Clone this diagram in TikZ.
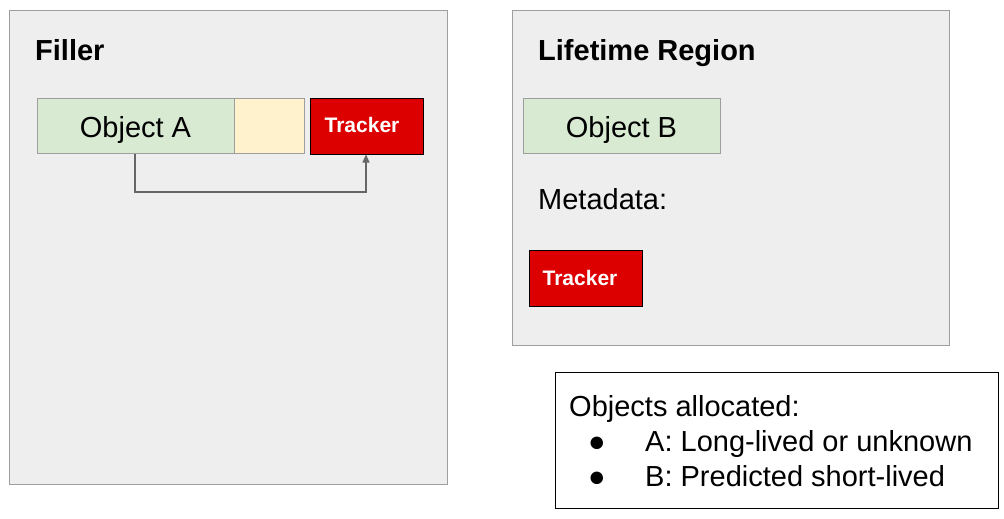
\documentclass[tikz,border=0pt]{standalone}
\usepackage{fontspec}
\setmainfont{Liberation Sans}
\usetikzlibrary{arrows.meta}
\definecolor{panel}{HTML}{EEEEEE}
\definecolor{panelline}{HTML}{9E9E9E}
\definecolor{objgreen}{HTML}{D9EAD3}
\definecolor{padyellow}{HTML}{FFF2CC}
\definecolor{trackred}{HTML}{DD0000}
\definecolor{arrowgray}{HTML}{666666}
\tikzset{
  panelbox/.style={draw=panelline, fill=panel, line width=1.2pt},
  objbox/.style={draw=panelline, fill=objgreen, line width=1pt, minimum height=55pt, inner sep=0pt, font=\fontsize{29}{33}\selectfont},
  padbox/.style={draw=panelline, fill=padyellow, line width=1pt, minimum height=55pt, inner sep=0pt},
  trackbox/.style={draw=black, fill=trackred, line width=1pt, minimum width=113pt, minimum height=56pt, inner sep=0pt, text=white, font=\bfseries\fontsize{21}{24}\selectfont},
  titletext/.style={anchor=base west, inner sep=0pt, font=\bfseries\fontsize{29}{33}\selectfont},
  plaintext/.style={anchor=base west, inner sep=0pt, font=\fontsize{29}{33}\selectfont},
}
\begin{document}
\begin{tikzpicture}[x=1pt,y=-1pt]
\useasboundingbox (0,0) rectangle (1004,519);
% panels
\node[panelbox, minimum width=438pt, minimum height=474pt, anchor=north west, inner sep=0pt] (filler) at (9,10) {};
\node[panelbox, minimum width=437pt, minimum height=335pt, anchor=north west, inner sep=0pt] (lifetime) at (512,10) {};
\node[titletext] (fillertitle) at (35,60) {Filler};
\node[titletext] (lifetitle) at (538,60) {Lifetime Region};
% filler contents
\node[objbox, minimum width=197pt, anchor=north west] (objA) at (37,98) {};
\node[plaintext, anchor=base] (objAtext) at (135.5,137) {Object A};
\node[padbox, minimum width=70pt, anchor=north west] (pad) at (234,98) {};
\node[trackbox, anchor=north west] (trackA) at (310,97.5) {};
\node[trackbox, draw=none, fill=none, minimum width=0pt, minimum height=0pt, anchor=base] (trackAtext) at (362,132) {Tracker};
\coordinate (c1) at (135,192);
\coordinate (c2) at (366,192);
\draw[arrowgray, line width=1.2pt, -{Triangle[length=8pt,width=7pt]}]
  (objA.south -| c1) -- (c1) -- (c2) -- (trackA.south -| c2);
% lifetime contents
\node[objbox, minimum width=197pt, anchor=north west] (objB) at (523,98) {};
\node[plaintext, anchor=base] (objBtext) at (621.5,137) {Object B};
\node[plaintext] (meta) at (538,209) {Metadata:};
\node[trackbox, anchor=north west] (trackB) at (529,250) {};
\node[trackbox, draw=none, fill=none, minimum width=0pt, minimum height=0pt, anchor=base] (trackBtext) at (580,285) {Tracker};
% legend
\node[draw=black, fill=white, line width=1.2pt, minimum width=443pt, minimum height=136pt, anchor=north west, inner sep=0pt] (legend) at (555,372) {};
\node[plaintext] (leg1) at (569,416) {Objects allocated:};
\node[plaintext] (b1) at (588,451) {●};
\node[plaintext] (leg2) at (645,451) {A: Long-lived or unknown};
\node[plaintext] (b2) at (588,486) {●};
\node[plaintext] (leg3) at (645,486) {B: Predicted short-lived};
\end{tikzpicture}
\end{document}
